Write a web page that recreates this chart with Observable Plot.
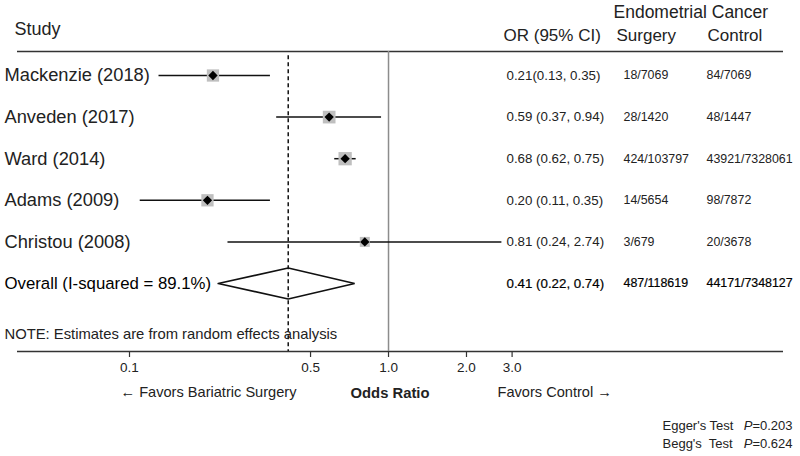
<!DOCTYPE html>
<html><head><meta charset="utf-8">
<script src="https://cdn.jsdelivr.net/npm/d3@7"></script>
<script src="https://cdn.jsdelivr.net/npm/@observablehq/plot@0.6"></script>
<style>
body{margin:0;background:#fff;}
svg text{white-space:pre;}
</style></head><body><div id="chart"></div>
<script>
const studies = ["Mackenzie (2018)","Anveden (2017)","Ward (2014)","Adams (2009)","Christou (2008)"];
const orValues = [0.21,0.59,0.68,0.20,0.81];
const ciLow = [0.13,0.37,0.62,0.11,0.24];
const ciHigh = [0.35,0.94,0.75,0.35,2.74];
const weights = [20.4,21.8,23.9,20.4,13.5];
const orLabels = ["0.21(0.13, 0.35)","0.59 (0.37, 0.94)","0.68 (0.62, 0.75)","0.20 (0.11, 0.35)","0.81 (0.24, 2.74)"];
const surgeryCounts = ["18/7069","28/1420","424/103797","14/5654","3/679"];
const controlCounts = ["84/7069","48/1447","43921/7328061","98/7872","20/3678"];
const overallLabel = "Overall (I-squared = 89.1%)";
const overallOR = 0.41, overallLow = 0.22, overallHigh = 0.74;
const overallORLabel = "0.41 (0.22, 0.74)";
const overallSurgery = "487/118619";
const overallControl = "44171/7348127";
const xTicks = [0.1, 0.5, 1, 2, 3];
const testNames = ["Egger's Test", "Begg's  Test"];
const testP = ["=0.203", "=0.624"];

const rows = studies.map((s, i) => ({
  study: s, row: i, or: orValues[i], lo: ciLow[i], hi: ciHigh[i], w: weights[i],
  orText: orLabels[i], surg: surgeryCounts[i], ctrl: controlCounts[i]
}));
const oRow = studies.length;
const overall = [{study: overallLabel, row: oRow, orText: overallORLabel, surg: overallSurgery, ctrl: overallControl}];
const yDomain = [-0.577, 6.635];
const stepPx = 300 / (yDomain[1] - yDomain[0]);
const h = 15.5 / stepPx;
const diamond = [
  {x: overallLow, y: oRow}, {x: overallOR, y: oRow - h}, {x: overallHigh, y: oRow},
  {x: overallOR, y: oRow + h}, {x: overallLow, y: oRow}
];

const txt = "#222";
const testMarks = testNames.flatMap((t, i) => [
  Plot.text([t], {frameAnchor: "bottom-right", lineAnchor: "middle", dx: -121, dy: 74 + 18 * i, textAnchor: "start", fontSize: 13, fill: txt}),
  Plot.text(["P"], {frameAnchor: "bottom-right", lineAnchor: "middle", dx: -31, dy: 74 + 18 * i, textAnchor: "end", fontSize: 13, fontStyle: "italic", fill: txt}),
  Plot.text([testP[i]], {frameAnchor: "bottom-right", lineAnchor: "middle", dx: 9, dy: 74 + 18 * i, textAnchor: "end", fontSize: 13, fill: txt})
]);

const chart = Plot.plot({
  width: 800, height: 456,
  marginLeft: 17, marginRight: 17, marginTop: 51, marginBottom: 105,
  style: {fontFamily: "'Liberation Sans', Arial, sans-serif", background: "#fff", color: "#222"},
  x: {type: "log", domain: [0.1, 3], range: [129, 511.6]},
  y: {domain: yDomain, range: [51, 351], axis: null},
  r: {domain: [0, 23.9], range: [0, 7.5]},
  marks: [
    Plot.ruleY([yDomain[0]], {stroke: "#333", strokeWidth: 1.5}),
    Plot.ruleY([yDomain[1]], {stroke: "#333", strokeWidth: 1.5}),
    Plot.ruleX([1], {y1: yDomain[0], y2: yDomain[1], stroke: "#8c8c8c", strokeWidth: 1.5}),
    Plot.ruleX([overallOR], {y1: yDomain[0] + 0.1, y2: yDomain[1], stroke: "#111", strokeWidth: 1.5, strokeDasharray: "4,3"}),
    Plot.axisX({ticks: xTicks, tickFormat: d => d.toFixed(1), tickSize: 6, tickPadding: 5, fontSize: 13.5, label: null, stroke: "#333", strokeWidth: 1.2}),
    Plot.ruleY(rows, {y: "row", x1: "lo", x2: "hi", stroke: "#111", strokeWidth: 1.5}),
    Plot.dot(rows, {x: "or", y: "row", r: "w", symbol: "square", fill: "#bfbfbf", stroke: null}),
    Plot.dot(rows, {x: "or", y: "row", r: 4.2, symbol: "diamond2", fill: "#000", stroke: null}),
    Plot.line(diamond, {x: "x", y: "y", stroke: "#111", strokeWidth: 1.6, strokeLinejoin: "miter"}),
    // row labels
    Plot.text(rows, {y: "row", text: "study", frameAnchor: "left", dx: -13, textAnchor: "start", fontSize: 18.3, fill: txt}),
    Plot.text(overall, {y: "row", text: "study", frameAnchor: "left", dx: -13, textAnchor: "start", fontSize: 16.8, fill: "#000"}),
    Plot.text(rows, {y: "row", text: "orText", frameAnchor: "left", dx: 489, textAnchor: "start", fontSize: 13.3, fill: txt}),
    Plot.text(rows, {y: "row", text: "surg", frameAnchor: "left", dx: 606, textAnchor: "start", fontSize: 12.4, fill: txt}),
    Plot.text(rows, {y: "row", text: "ctrl", frameAnchor: "left", dx: 689, textAnchor: "start", fontSize: 12.4, fill: txt}),
    Plot.text(overall, {y: "row", text: "orText", frameAnchor: "left", dx: 489, textAnchor: "start", fontSize: 13.3, fill: "#000", stroke: "#000", strokeWidth: 0.2}),
    Plot.text(overall, {y: "row", text: "surg", frameAnchor: "left", dx: 606, textAnchor: "start", fontSize: 12.4, fill: "#000", stroke: "#000", strokeWidth: 0.2}),
    Plot.text(overall, {y: "row", text: "ctrl", frameAnchor: "left", dx: 689, textAnchor: "start", fontSize: 12.4, fill: "#000", stroke: "#000", strokeWidth: 0.2}),
    // headers
    Plot.text(["Study"], {frameAnchor: "top-left", lineAnchor: "middle", dx: -3, dy: -22, textAnchor: "start", fontSize: 18, fill: txt}),
    Plot.text(["OR (95% CI)"], {frameAnchor: "top-left", lineAnchor: "middle", dx: 486, dy: -15.5, textAnchor: "start", fontSize: 17, fill: txt}),
    Plot.text(["Surgery"], {frameAnchor: "top-left", lineAnchor: "middle", dx: 599, dy: -15.5, textAnchor: "start", fontSize: 17, fill: txt}),
    Plot.text(["Control"], {frameAnchor: "top-left", lineAnchor: "middle", dx: 690, dy: -15.5, textAnchor: "start", fontSize: 17, fill: txt}),
    Plot.text(["Endometrial Cancer"], {frameAnchor: "top-left", lineAnchor: "middle", dx: 596, dy: -39.5, textAnchor: "start", fontSize: 17.5, fill: txt}),
    // note
    Plot.text(["NOTE: Estimates are from random effects analysis"], {frameAnchor: "bottom-left", lineAnchor: "middle", dx: -13, dy: -17, textAnchor: "start", fontSize: 14.8, fill: txt}),
    // axis captions
    Plot.text(["\u2190 Favors Bariatric Surgery"], {frameAnchor: "bottom-left", lineAnchor: "middle", dx: 103, dy: 41, textAnchor: "start", fontSize: 14.6, fill: txt}),
    Plot.text(["Odds Ratio"], {frameAnchor: "bottom-left", lineAnchor: "middle", dx: 372.5, dy: 41.5, textAnchor: "middle", fontSize: 14.8, fontWeight: "bold", fill: txt}),
    Plot.text(["Favors Control \u2192"], {frameAnchor: "bottom-left", lineAnchor: "middle", dx: 480, dy: 41, textAnchor: "start", fontSize: 14.6, fill: txt}),
    // tests
    ...testMarks
  ]
});
document.getElementById("chart").appendChild(chart);
</script></body></html>
